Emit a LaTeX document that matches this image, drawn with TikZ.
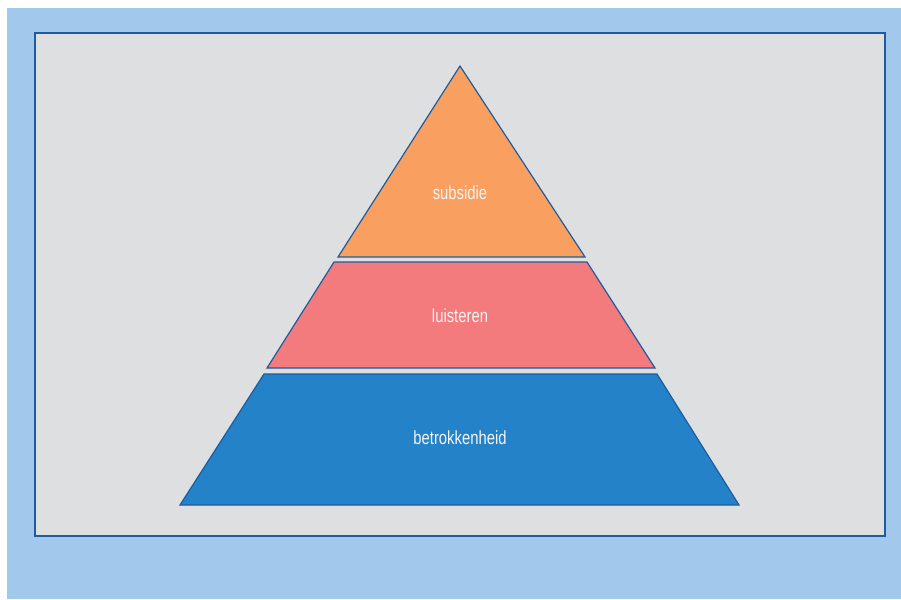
\documentclass[tikz,border=0pt]{standalone}
\usepackage{fontspec}
\setmainfont{Liberation Sans}
\newfontfamily\narrowfont[FakeStretch=0.78]{Liberation Sans}
\definecolor{outerblue}{HTML}{A2C8EC}
\definecolor{panelgrey}{HTML}{DEDFE1}
\definecolor{edgeblue}{HTML}{1D5C9E}
\definecolor{toporange}{HTML}{F9A061}
\definecolor{midpink}{HTML}{F37A7D}
\definecolor{basblue}{HTML}{2382C8}
\definecolor{labelwhite}{HTML}{F4F4F4}
\tikzset{
  tier/.style={draw=edgeblue, line width=1.2pt, line join=miter},
  tierlabel/.style={text=labelwhite, font=\narrowfont\fontsize{19}{22}\selectfont, inner sep=0pt}
}
\begin{document}
\begin{tikzpicture}[x=1pt,y=-1pt]
\useasboundingbox (0,0) rectangle (901,599);
\fill[white] (0,0) rectangle (901,599);
\fill[outerblue] (7,8) rectangle (901,599);
\draw[fill=panelgrey, draw=edgeblue, line width=1.3pt] (35,33) rectangle (885,536);
\path[tier, fill=toporange] (460,66) -- (585,257) -- (338,257) -- cycle;
\path[tier, fill=midpink] (334,262) -- (587,262) -- (655,368) -- (267,368) -- cycle;
\path[tier, fill=basblue] (264,374) -- (657,374) -- (739,505) -- (180,505) -- cycle;
\node[tierlabel] (subsidie) at (460,193) {subsidie};
\node[tierlabel] (luisteren) at (460,316) {luisteren};
\node[tierlabel] (betrokkenheid) at (460,438) {betrokkenheid};
\end{tikzpicture}
\end{document}
